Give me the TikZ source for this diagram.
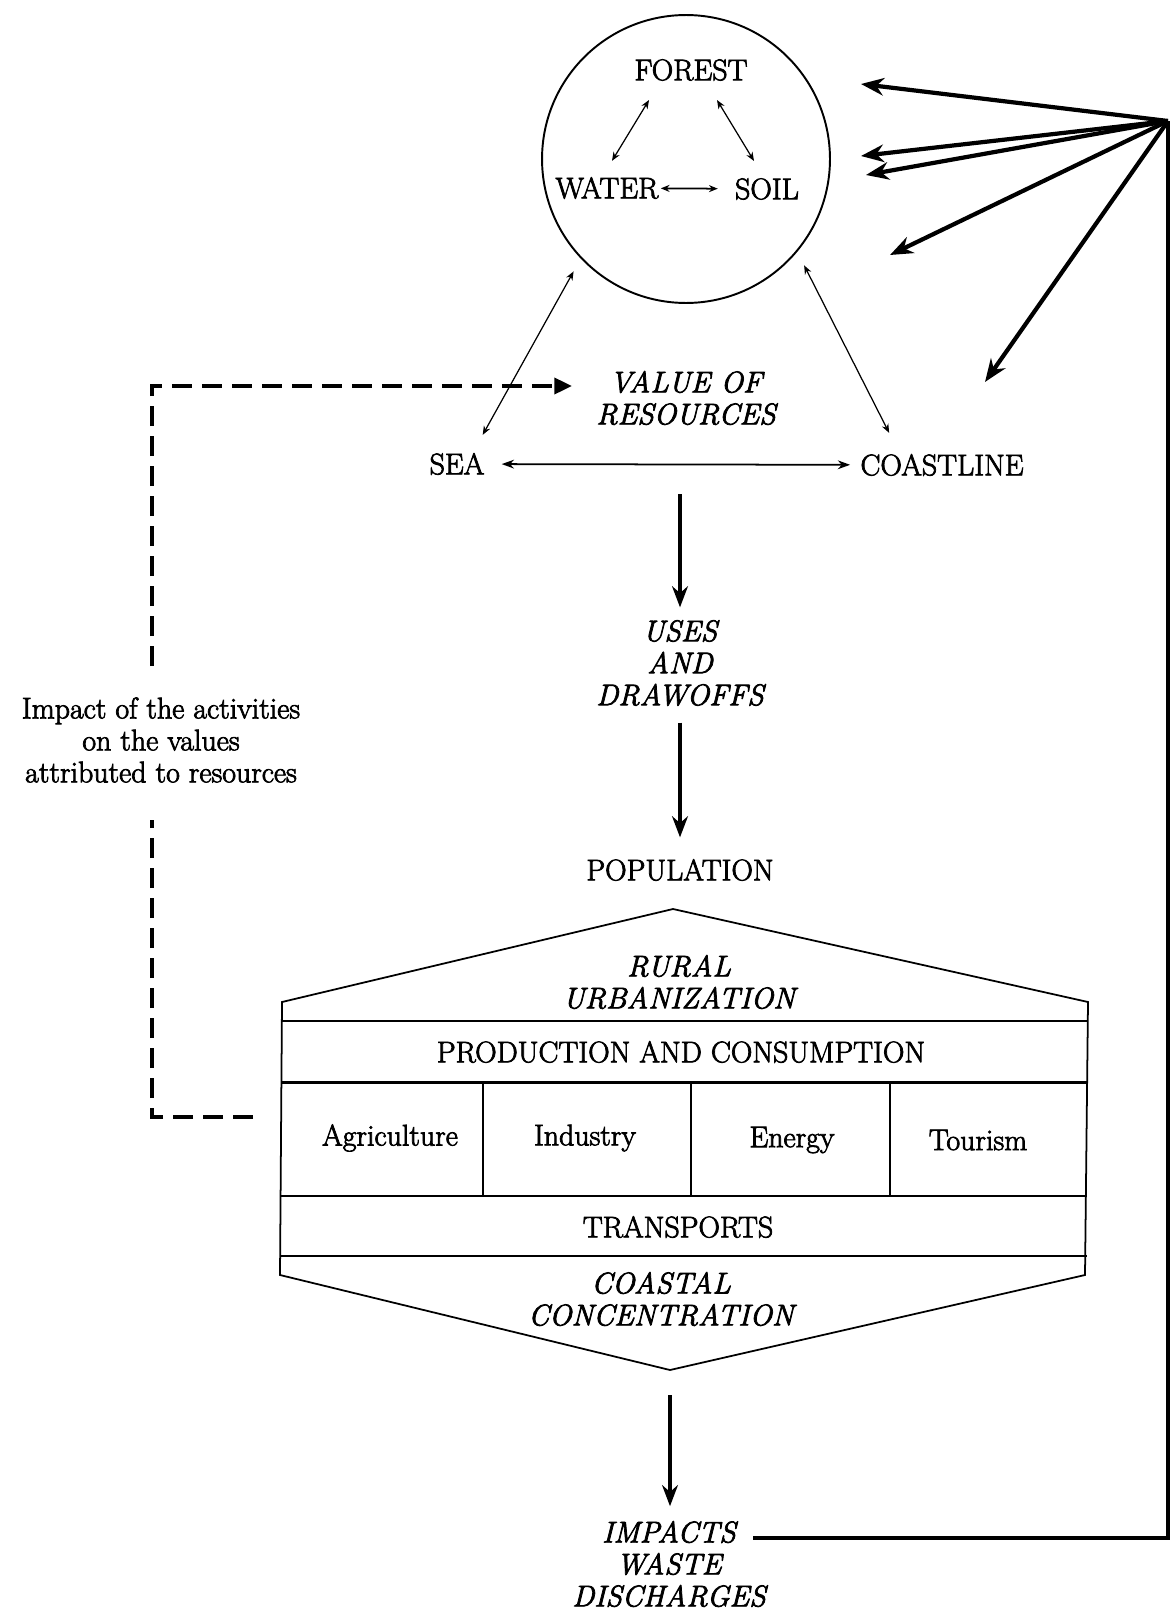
\documentclass[tikz,border=0pt]{standalone}
\usepackage{fontspec}
\newfontfamily\diagfont{Latin Modern Roman}[FakeBold=2.5]
\usepackage{tikz}
\usetikzlibrary{
    arrows.meta,
    calc
}
\tikzset{
  lbl/.style     = {inner sep=0pt, align=center,
                    font=\diagfont\fontsize{17}{18.2}\selectfont},
  ital/.style    = {inner sep=0pt, align=center,
                    font=\diagfont\fontsize{17}{18.2}\selectfont\itshape},
  thinarr/.style = {{Stealth[length=5pt,width=4pt]}-{Stealth[length=5pt,width=4pt]},
                    line width=0.7pt},
  flow/.style    = {-{Stealth[length=12pt,width=9pt]}, line width=2.2pt},
  fan/.style     = {-{Stealth[length=13pt,width=10pt]}, line width=2.4pt},
  dashln/.style  = {line width=2.2pt, dash pattern=on 0.4cm off 0.2cm}
}

\begin{document}
\begin{tikzpicture}[
  x=0.02cm, y=-0.02cm,
  hexline/.style={line width=1pt, line join=miter},
  rowline/.style={line width=1.6pt},
  cellline/.style={line width=0.8pt}
]
\useasboundingbox (0,0) rectangle (1172,1612);

%% Resources circle
\node[draw, circle, line width=1.1pt, minimum size=5.76cm,
      inner sep=0pt, outer sep=0.3cm] (res) at (686,159) {};
\node[lbl] (forest) at (691,70)  {FOREST};
\node[lbl] (water)  at (607,188) {WATER};
\node[lbl] (soil)   at (767,189) {SOIL};

\draw[thinarr] ([shift={(-42,19)}]forest.south) -- ([shift={(5,-16)}]water.north);
\draw[thinarr] ([shift={(26,19)}]forest.south)  -- ([shift={(-13,-17)}]soil.north);
\draw[thinarr, line width=1pt, shorten <=0.04cm, shorten >=0.34cm] (water) -- (soil);

%% Sea, coastline, value
\node[lbl]  (sea)   at (457,464) {SEA};
\node[lbl]  (coast) at (942,465) {COASTLINE};
\node[ital] (value) at (686,398) {VALUE OF\\RESOURCES};

\draw[thinarr] ([shift={(-2,-18)}]sea.north east)   -- (res.225);
\draw[thinarr] ([shift={(29,-21)}]coast.north west) -- (res.-42);
\draw[{Stealth[length=7pt,width=5pt]}-{Stealth[length=7pt,width=5pt]},
      line width=1pt, shorten <=0.34cm, shorten >=0.2cm] (sea) -- (coast);

%% Fan of pressures on the resources
\coordinate (hub) at (1168,121);
\foreach \px/\py [count=\i] in {861/84,861/156,866/175,890/255,985/382}
  \coordinate (t\i) at (\px,\py);
\foreach \i in {1,...,5}
  \draw[fan] (hub) -- (t\i);

%% Main chain
\node[ital] (uses) at (680,663)  {USES\\AND\\DRAWOFFS};
\node[lbl]  (pop)  at (680,870)  {POPULATION};

\draw[flow, shorten <=1.38cm, shorten >=0.25cm] (uses.north |- value.south) -- (uses.north);
\draw[flow, shorten <=0.33cm, shorten >=0.43cm] (uses.south) -- (pop.north);

%% Activities block
\coordinate (htop) at (673,909);
\coordinate (hbot) at (670,1370);
\draw[hexline] (282,1002) -- (htop) -- (1088,1002) -- (1085,1275)
               -- (hbot) -- (280,1275) -- cycle;
\foreach \y in {1021,1082.5,1196,1256}
  \draw[rowline] (281,\y) -- (1087,\y);
\foreach \x in {483,691,890}
  \draw[cellline] (\x,1082.5) -- (\x,1196);

\node[ital] (rural)  at (679,982)   {RURAL\\URBANIZATION};
\node[lbl]  (prod)   at (681,1052)  {PRODUCTION AND CONSUMPTION};
\node[lbl]  (agri)   at (390,1138)  {Agriculture};
\node[lbl]  (ind)    at (585,1138)  {Industry};
\node[lbl]  (energy) at (792,1140)  {Energy};
\node[lbl]  (tour)   at (978,1140)  {Tourism};
\node[lbl]  (transp) at (678,1227)  {TRANSPORTS};
\node[ital] (coastc) at (661,1299)  {COASTAL\\CONCENTRATION};

%% Impacts and feedback to resources
\node[ital] (impacts) at (669,1564) {IMPACTS\\WASTE\\DISCHARGES};
\draw[flow, shorten <=0.5cm, shorten >=0.29cm] (hbot) -- (hbot |- impacts.north);
\draw[line width=2.2pt, line join=miter]
  ([shift={(-13,17.5)}]impacts.north east) -| (hub);

%% Feedback of activities on values
\node[lbl] (imp) at (161,740) {Impact of the activities\\on the values\\attributed to resources};
\coordinate (hexw)   at (281,1117);
\coordinate (corner) at (152,386);
\draw[dashln, shorten <=0.56cm, shorten >=0.74cm] (hexw) -| (corner |- imp.south);
\draw[dashln, -{Triangle[length=10pt,width=9pt]}, shorten <=0.62cm, shorten >=0.48cm]
  (corner |- imp.north) -- (corner) -- (corner -| value.west);

\end{tikzpicture}
\end{document}
